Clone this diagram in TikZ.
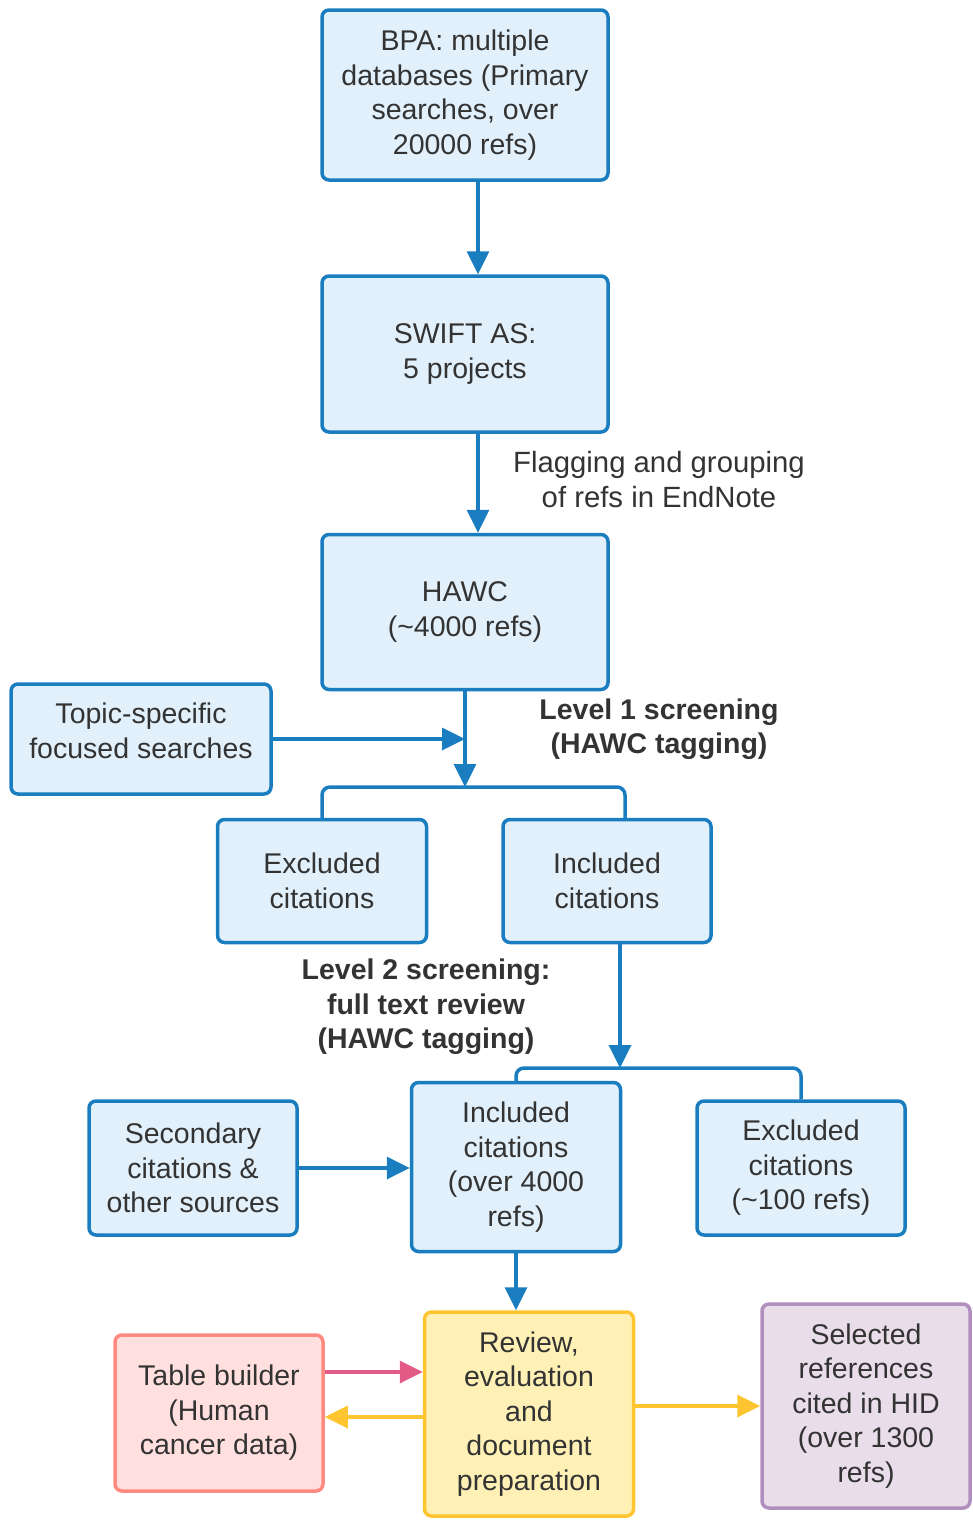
\documentclass[tikz,border=0pt]{standalone}
\usepackage{fontspec}
\setmainfont{Liberation Sans}
\usetikzlibrary{arrows.meta,calc}
\definecolor{bline}{HTML}{1A7DC0}
\definecolor{bfill}{HTML}{E1F0FB}
\definecolor{yline}{HTML}{FFC531}
\definecolor{yfill}{HTML}{FFF1B5}
\definecolor{rline}{HTML}{FF8A80}
\definecolor{rfill}{HTML}{FFE0DE}
\definecolor{pline}{HTML}{B08FBE}
\definecolor{pfill}{HTML}{E8DDE9}
\definecolor{parrow}{HTML}{E25A86}
\definecolor{txt}{HTML}{333333}
\tikzset{
  box/.style={draw, line width=3.5pt, rounded corners=7pt, align=center, text=txt,
    font=\fontsize{28.5}{34.5}\selectfont, inner sep=0pt},
  bluebox/.style={box, draw=bline, fill=bfill},
  lbl/.style={align=center, text=txt, font=\fontsize{29.3}{35}\selectfont},
  blbl/.style={lbl, font=\fontsize{28.5}{34.5}\selectfont\bfseries},
  conn/.style={line width=3.5pt, draw=bline},
  arr/.style={conn, -{Triangle[length=23pt,width=22pt]}},
}
\begin{document}
\begin{tikzpicture}[x=1pt,y=-1pt]
\useasboundingbox (0,0) rectangle (973,1521);
\node[bluebox, minimum width=286pt, minimum height=170pt] (BPA) at (465,95)
  {BPA: multiple\\databases (Primary\\searches, over\\20000 refs)};
\node[bluebox, minimum width=286pt, minimum height=156pt] (SW) at (465,354)
  {SWIFT AS:\\5 projects};
\node[bluebox, minimum width=286pt, minimum height=155pt] (HAWC) at (465,612)
  {HAWC\\(\textasciitilde 4000 refs)};
\node[bluebox, minimum width=260pt, minimum height=110pt] (Top) at (141,739) {};
\node[lbl, font=\fontsize{28.5}{34.5}\selectfont] (TopT) at (141,731)
  {Topic-specific\\focused searches};
\node[bluebox, minimum width=209pt, minimum height=123pt] (Ex1) at (322,881)
  {Excluded\\citations};
\node[bluebox, minimum width=208pt, minimum height=123pt] (In1) at (607,881)
  {Included\\citations};
\node[bluebox, minimum width=208pt, minimum height=134pt] (Sec) at (193,1168)
  {Secondary\\citations \&\\other sources};
\node[bluebox, minimum width=209pt, minimum height=169pt] (In2) at (516,1167)
  {Included\\citations\\(over 4000\\refs)};
\node[bluebox, minimum width=208pt, minimum height=134pt] (Ex2) at (801,1168)
  {Excluded\\citations\\(\textasciitilde 100 refs)};
\node[box, draw=rline, fill=rfill, minimum width=208pt, minimum height=156pt] (Tab) at (219,1413)
  {Table builder\\(Human\\cancer data)};
\node[box, draw=yline, fill=yfill, minimum width=209pt, minimum height=204pt] (Rev) at (529,1414)
  {Review,\\evaluation\\and\\document\\preparation};
\node[box, draw=pline, fill=pfill, minimum width=208pt, minimum height=204pt] (Sel) at (866,1406)
  {Selected\\references\\cited in HID\\(over 1300\\refs)};

\node[lbl] (L0) at (659,480) {Flagging and grouping\\of refs in EndNote};
\node[blbl] (L1) at (659,729) {Level 1 screening\\(HAWC tagging)};
\node[blbl] (L2) at (426,1007) {Level 2 screening:\\full text review\\(HAWC tagging)};

\coordinate (br1) at (465,787);
\coordinate (br2) at (620,1068);

\draw[arr] ([xshift=13pt]BPA.south) -- ([xshift=13pt]SW.north);
\draw[arr] ([xshift=13pt]SW.south) -- ([xshift=13pt]HAWC.north);
\draw[arr] (HAWC.south) -- (br1);
\draw[arr] (Top.east) -- (Top.east -| HAWC.south);
\draw[conn, rounded corners=8pt] (Ex1.north) |- (br1) -| ([xshift=18pt]In1.north);
\draw[arr] ([xshift=13pt]In1.south) -- (br2);
\draw[conn, rounded corners=8pt] (In2.north) |- (br2) -| (Ex2.north);
\draw[arr] (Sec.east) -- (Sec.east -| In2.west);
\draw[arr] (In2.south) -- (In2.south |- Rev.north);
\draw[arr, draw=parrow, fill=parrow] ([yshift=41pt]Tab.east) -- ([yshift=41pt]Tab.east -| Rev.west);
\draw[arr, draw=yline, fill=yline] ([yshift=-3pt]Rev.west) -- ([yshift=-3pt]Rev.west -| Tab.east);
\draw[arr, draw=yline, fill=yline] ([yshift=8pt]Rev.east) -- ([yshift=8pt]Rev.east -| Sel.west);
\end{tikzpicture}
\end{document}
